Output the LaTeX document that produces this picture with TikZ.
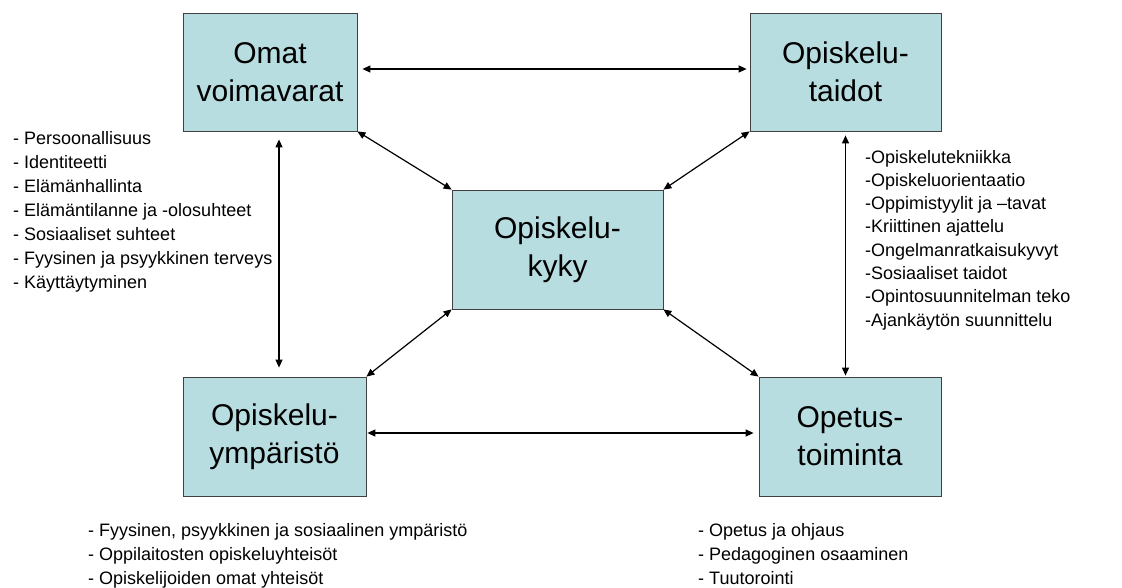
\documentclass[tikz,border=0pt]{standalone}
\usepackage{fontspec}
\setmainfont{Liberation Sans}
\usetikzlibrary{arrows.meta}
\definecolor{boxblue}{HTML}{B7DDE1}
\tikzset{
  area/.style={draw=black!75, fill=boxblue, line width=0.8pt, align=center,
    inner sep=0pt, font=\fontsize{30}{38}\selectfont},
  link/.style={line width=1.2pt,
    {Triangle[length=8pt,width=7pt]}-{Triangle[length=8pt,width=7pt]}},
  item/.style={anchor=base west, inner sep=0pt, font=\fontsize{18}{24}\selectfont},
}
\begin{document}
\begin{tikzpicture}[x=1pt, y=-1pt]
  \useasboundingbox (0,0) rectangle (1122,587);
  % Areas
  \node[area, minimum width=174pt, minimum height=118pt] (omat) at (270,72) {Omat\\voimavarat};
  \node[area, minimum width=191pt, minimum height=118pt] (taidot) at (845.5,72) {Opiskelu-\\taidot};
  \node[area, minimum width=211pt, minimum height=119pt] (kyky) at (557.5,249.5) {Opiskelu-\\kyky};
  \node[area, minimum width=183pt, minimum height=119pt] (ymp) at (274.5,436.5) {Opiskelu-\\ympäristö};
  \node[area, minimum width=182pt, minimum height=119pt] (opetus) at (850,436.5) {Opetus-\\toiminta};

  % Links between the areas
  \draw[link, shorten <=5pt, shorten >=3pt] ([yshift=3pt]omat.east) -- ([yshift=3pt]omat.east -| taidot.west);
  \draw[link, shorten <=1pt, shorten >=5pt] ([yshift=3.5pt]ymp.east) -- ([yshift=3.5pt]ymp.east -| opetus.west);
  \draw[link, shorten <=8pt, shorten >=9pt] ([xshift=9pt]omat.south) -- ([xshift=9pt]omat.south |- ymp.north);
  \draw[link, shorten <=4pt, shorten >=1pt] (taidot.south) -- (taidot.south |- opetus.north);
  \foreach \a/\b in {omat.south east/kyky.north west, taidot.south west/kyky.north east,
                     kyky.south west/ymp.north east, kyky.south east/opetus.north west} {
    \draw[link] (\a) -- (\b);
  }

  % Lists
  \foreach \t [count=\i] in {- Persoonallisuus, - Identiteetti, - Elämänhallinta,
      - Elämäntilanne ja -olosuhteet, - Sosiaaliset suhteet,
      - Fyysinen ja psyykkinen terveys, - Käyttäytyminen} {
    \node[item] (omat\i) at (13,{144+24*(\i-1)}) {\t};
  }
  \foreach \t [count=\i] in {-Opiskelutekniikka, -Opiskeluorientaatio, -Oppimistyylit ja –tavat,
      -Kriittinen ajattelu, -Ongelmanratkaisukyvyt, -Sosiaaliset taidot,
      -Opintosuunnitelman teko, -Ajankäytön suunnittelu} {
    \node[item] (taidot\i) at (865,{163+23.3*(\i-1)}) {\t};
  }
  \foreach \t [count=\i] in {{- Fyysinen, psyykkinen ja sosiaalinen ympäristö},
      - Oppilaitosten opiskeluyhteisöt, - Opiskelijoiden omat yhteisöt} {
    \node[item] (ymp\i) at (88,{536+24*(\i-1)}) {\t};
  }
  \foreach \t [count=\i] in {- Opetus ja ohjaus, - Pedagoginen osaaminen, - Tuutorointi} {
    \node[item] (opetus\i) at (698,{536+24*(\i-1)}) {\t};
  }
\end{tikzpicture}
\end{document}
